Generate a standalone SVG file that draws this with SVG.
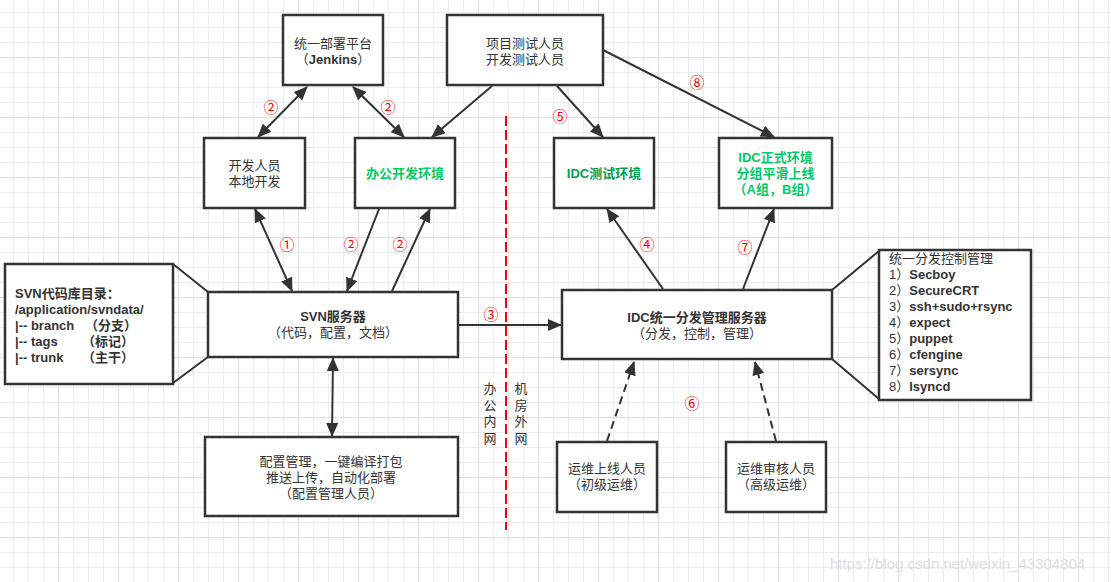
<svg xmlns="http://www.w3.org/2000/svg" width="1111" height="582" viewBox="0 0 1111 582">
<defs>
<pattern id="grid" patternUnits="userSpaceOnUse" x="13" y="12" width="60" height="60">
<path d="M0.5,0V60M15.5,0V60M30.5,0V60M0,0.5H60M0,15.5H60M0,30.5H60" stroke="#ededed" stroke-width="1" fill="none"/>
<path d="M45.5,0V60M0,45.5H60" stroke="#e0e0e0" stroke-width="1" fill="none"/>
</pattern>
<marker id="ah" markerUnits="userSpaceOnUse" markerWidth="14" markerHeight="12" refX="13" refY="6" orient="auto-start-reverse" viewBox="0 0 14 12">
<path d="M0,0 L14,6 L0,12 z" fill="#333"/>
</marker>
</defs>
<style>
.box{fill:#fff;stroke:#333;stroke-width:2.5}
.t{font-family:"Liberation Sans","Noto Sans CJK SC",sans-serif;font-size:13px;fill:#333;dominant-baseline:central}
.c{text-anchor:middle}
.b{font-weight:bold}
.g{fill:#00cc66;font-weight:bold}
.g2{fill:#00a050;font-weight:bold}
.n{font-family:"Noto Sans CJK SC",sans-serif;font-size:15px;fill:#ff0000;text-anchor:middle;dominant-baseline:central}
.ln{stroke:#333;stroke-width:2;fill:none}
.ar{stroke:#333;stroke-width:2;fill:none;marker-end:url(#ah)}
.ar2{stroke:#333;stroke-width:2;fill:none;marker-end:url(#ah);marker-start:url(#ah)}
.da{stroke:#333;stroke-width:2;fill:none;marker-end:url(#ah);stroke-dasharray:8 5}
</style>
<rect width="1111" height="582" fill="#fff"/>
<rect width="1111" height="582" fill="url(#grid)"/>

<g id="divider">
<line x1="506" y1="116" x2="506" y2="530" stroke="#ff0000" stroke-width="2" stroke-dasharray="10 4"/>
<text class="t c"><tspan x="490" y="388">办</tspan><tspan x="490" y="405">公</tspan><tspan x="490" y="421">内</tspan><tspan x="490" y="438">网</tspan></text>
<text class="t c"><tspan x="521" y="388">机</tspan><tspan x="521" y="405">房</tspan><tspan x="521" y="421">外</tspan><tspan x="521" y="438">网</tspan></text>
</g>

<g id="connectors">
<line class="ar2" x1="258" y1="137" x2="307" y2="87"/>
<line class="ar2" x1="353" y1="87" x2="404" y2="137"/>
<line class="ar" x1="492" y1="86" x2="432" y2="137"/>
<line class="ar" x1="557" y1="86" x2="603" y2="137"/>
<line class="ar" x1="603" y1="50" x2="774" y2="137"/>
<line class="ar2" x1="292" y1="291" x2="255" y2="209"/>
<line class="ar" x1="379" y1="209" x2="347" y2="291"/>
<line class="ar" x1="392" y1="291" x2="430" y2="209"/>
<line class="ar2" x1="333" y1="358" x2="332" y2="436"/>
<line class="ar" x1="458" y1="325" x2="561" y2="325"/>
<line class="ar" x1="663" y1="289" x2="607" y2="209"/>
<line class="ar" x1="743" y1="289" x2="774" y2="209"/>
<line class="da" x1="607" y1="441" x2="634" y2="362"/>
<line class="da" x1="776" y1="441" x2="755" y2="362"/>
<path class="ln" d="M173,264 L208,292 M173,383 L208,357"/>
<path class="ln" d="M832,290 L879,251 M832,359 L879,399"/>
</g>

<g id="labels">
<text class="n" x="271" y="106">②</text>
<text class="n" x="388" y="106">②</text>
<text class="n" x="287" y="243">①</text>
<text class="n" x="351" y="243">②</text>
<text class="n" x="400" y="243">②</text>
<text class="n" x="560" y="115">⑤</text>
<text class="n" x="697" y="81">⑧</text>
<text class="n" x="647" y="243">④</text>
<text class="n" x="745" y="246">⑦</text>
<text class="n" x="491" y="313">③</text>
<text class="n" x="692" y="402">⑥</text>
</g>

<g id="jenkins">
<rect class="box" x="283" y="15" width="100" height="70"/>
<text class="t c"><tspan x="333" y="42.5">统一部署平台</tspan><tspan x="333" y="58.5">（<tspan class="b">Jenkins</tspan>）</tspan></text>
</g>

<g id="testers">
<rect class="box" x="447" y="15" width="156" height="70"/>
<text class="t c"><tspan x="525" y="42.5">项目测试人员</tspan><tspan x="525" y="58.5">开发测试人员</tspan></text>
</g>

<g id="dev">
<rect class="box" x="204" y="138" width="101" height="70"/>
<text class="t c"><tspan x="254.5" y="165">开发人员</tspan><tspan x="254.5" y="181">本地开发</tspan></text>
</g>

<g id="office-env">
<rect class="box" x="355" y="138" width="100" height="70"/>
<text class="t c g" x="405" y="173">办公开发环境</text>
</g>

<g id="idc-test">
<rect class="box" x="554" y="138" width="100" height="70"/>
<text class="t c g2" x="604" y="173">IDC测试环境</text>
</g>

<g id="idc-prod">
<rect class="box" x="719" y="138" width="113" height="70"/>
<text class="t c g"><tspan x="775.5" y="157">IDC正式环境</tspan><tspan x="775.5" y="173">分组平滑上线</tspan><tspan x="775.5" y="189">（A组，B组）</tspan></text>
</g>

<g id="svn-dir">
<rect class="box" x="5" y="264" width="168" height="120"/>
<text class="t b"><tspan x="15" y="293">SVN代码库目录：</tspan><tspan x="15" y="309">/application/svndata/</tspan><tspan x="15" y="325">|-- branch</tspan><tspan x="85" y="325">（分支）</tspan><tspan x="15" y="341">|-- tags</tspan><tspan x="82" y="341">（标记）</tspan><tspan x="15" y="357">|-- trunk</tspan><tspan x="82" y="357">（主干）</tspan></text>
</g>

<g id="svn">
<rect class="box" x="208" y="292" width="250" height="65"/>
<text class="t c"><tspan class="b" x="333" y="316">SVN服务器</tspan><tspan x="333" y="332">（代码，配置，文档）</tspan></text>
</g>

<g id="idc-server">
<rect class="box" x="562" y="290" width="270" height="69"/>
<text class="t c"><tspan class="b" x="697" y="317">IDC统一分发管理服务器</tspan><tspan x="697" y="333">（分发，控制，管理）</tspan></text>
</g>

<g id="tools">
<rect class="box" x="879" y="250" width="152" height="150"/>
<text class="t"><tspan x="889" y="258">统一分发控制管理</tspan><tspan x="889" y="274">1）<tspan class="b">Secboy</tspan></tspan><tspan x="889" y="290">2）<tspan class="b">SecureCRT</tspan></tspan><tspan x="889" y="306">3）<tspan class="b">ssh+sudo+rsync</tspan></tspan><tspan x="889" y="322">4）<tspan class="b">expect</tspan></tspan><tspan x="889" y="338">5）<tspan class="b">puppet</tspan></tspan><tspan x="889" y="354">6）<tspan class="b">cfengine</tspan></tspan><tspan x="889" y="370">7）<tspan class="b">sersync</tspan></tspan><tspan x="889" y="386">8）<tspan class="b">lsyncd</tspan></tspan></text>
</g>

<g id="config">
<rect class="box" x="205" y="437" width="253" height="79"/>
<text class="t c"><tspan x="331" y="461">配置管理，一键编译打包</tspan><tspan x="331" y="477">推送上传，自动化部署</tspan><tspan x="331" y="493">（配置管理人员）</tspan></text>
</g>

<g id="ops-junior">
<rect class="box" x="557" y="442" width="100" height="70"/>
<text class="t c"><tspan x="607" y="468">运维上线人员</tspan><tspan x="607" y="484">（初级运维）</tspan></text>
</g>

<g id="ops-senior">
<rect class="box" x="726" y="442" width="100" height="70"/>
<text class="t c"><tspan x="776" y="468">运维审核人员</tspan><tspan x="776" y="484">（高级运维）</tspan></text>
</g>

<text x="830" y="569" font-family="Liberation Sans, Arial, sans-serif" font-size="15" fill="#dddddd">https://blog.csdn.net/weixin_43304804</text>
</svg>
